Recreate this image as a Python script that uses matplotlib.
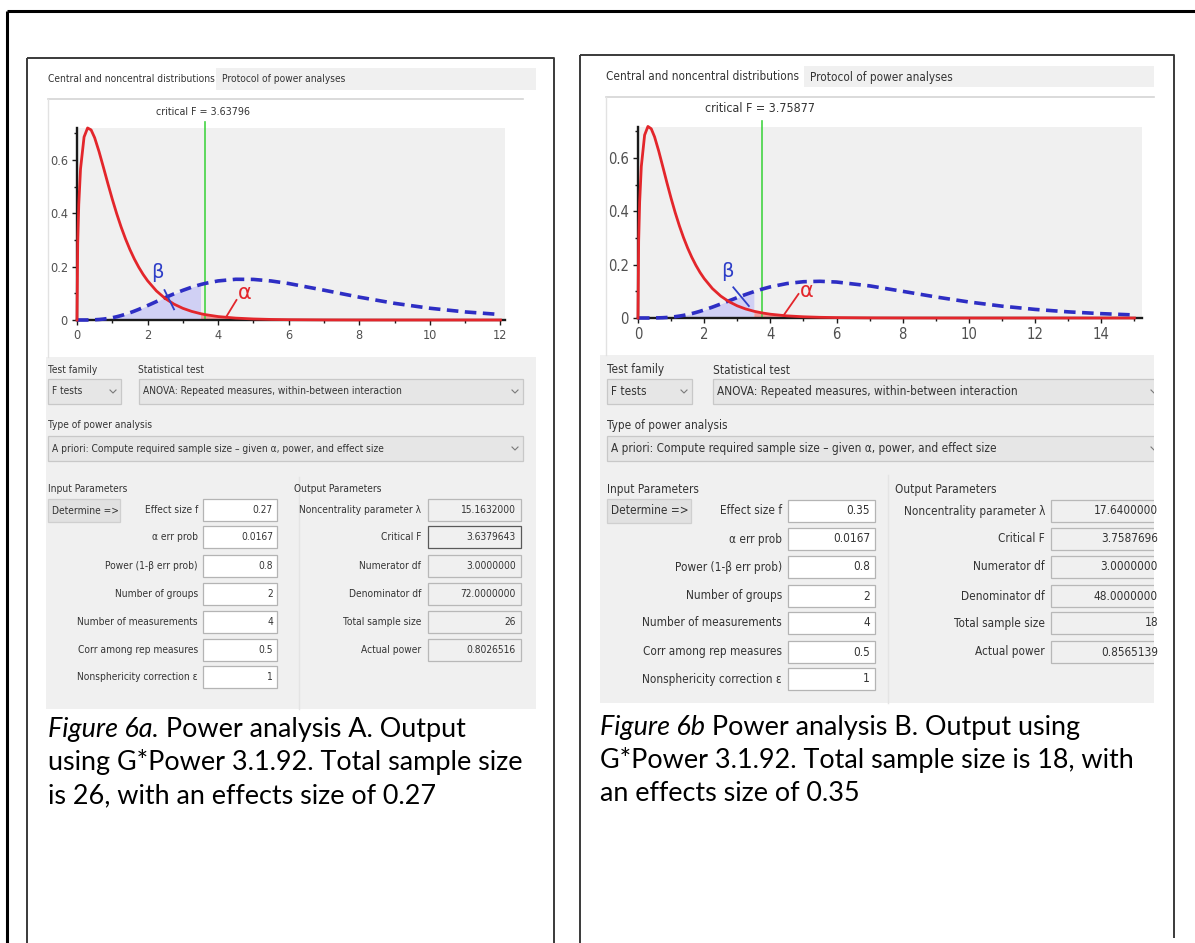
import matplotlib
matplotlib.use("Agg")
import matplotlib.pyplot as plt
import matplotlib.font_manager as fm
from matplotlib.patches import Rectangle
from matplotlib.ticker import MultipleLocator

# ---------------- data (read from the two G*Power screenshots) ----------------
crit_A = 3.63796
x_A = [0, 0.02, 0.05, 0.1, 0.2, 0.3, 0.4, 0.5, 0.625, 0.75,
       0.875, 1.0, 1.125, 1.25, 1.375, 1.5, 1.625, 1.75, 1.875, 2.0,
       2.25, 2.5, 2.75, 3.0, 3.25, 3.5, 3.638, 4.0, 4.5, 5.0,
       5.5, 6.0, 7.0, 8.0, 9.0, 10.0, 11.0, 12.0]
central_A = [0, 0.2871, 0.4332, 0.5667, 0.6862, 0.7201, 0.7128, 0.6836, 0.6314, 0.5721,
             0.5116, 0.4532, 0.3987, 0.3489, 0.3041, 0.2641, 0.2288, 0.1979, 0.1708, 0.1473,
             0.1091, 0.0806, 0.0594, 0.0438, 0.0323, 0.0238, 0.0201, 0.0129, 0.0071, 0.0039,
             0.0021, 0.0012, 0.0004, 0.0001, 0, 0, 0, 0]
noncentral_A = [0, 0, 0, 0, 0, 0.0001, 0.0004, 0.0009, 0.0019, 0.0035,
                0.0057, 0.0086, 0.0122, 0.0166, 0.0216, 0.0272, 0.0333, 0.0399, 0.0469, 0.0541,
                0.0691, 0.0840, 0.0982, 0.1113, 0.1230, 0.1328, 0.1374, 0.1466, 0.1527, 0.1522,
                0.1464, 0.1368, 0.1118, 0.0856, 0.0625, 0.0441, 0.0303, 0.0205]
xticks_A = [0, 2, 4, 6, 8, 10, 12]
xticklabels_A = ["0", "2", "4", "6", "8", "10", "12"]

crit_B = 3.75877
x_B = [0, 0.02, 0.05, 0.1, 0.2, 0.3, 0.4, 0.5, 0.625, 0.75,
       0.875, 1.0, 1.125, 1.25, 1.375, 1.5, 1.625, 1.75, 1.875, 2.0,
       2.25, 2.5, 2.75, 3.0, 3.25, 3.5, 3.759, 4.0, 4.5, 5.0,
       5.5, 6.0, 7.0, 8.0, 9.0, 10.0, 11.0, 12.0, 13.0, 14.0, 15.0]
central_B = [0, 0.2884, 0.4348, 0.5680, 0.6859, 0.7181, 0.7094, 0.6793, 0.6265, 0.5670,
             0.5066, 0.4487, 0.3948, 0.3458, 0.3017, 0.2624, 0.2278, 0.1974, 0.1708, 0.1478,
             0.1102, 0.0822, 0.0612, 0.0456, 0.0340, 0.0254, 0.0188, 0.0142, 0.0080, 0.0046,
             0.0026, 0.0015, 0.0005, 0.0002, 0.0001, 0, 0, 0, 0, 0, 0]
noncentral_B = [0, 0, 0, 0, 0, 0, 0.0001, 0.0002, 0.0006, 0.0011,
                0.0020, 0.0033, 0.0050, 0.0072, 0.0098, 0.0130, 0.0166, 0.0207, 0.0252, 0.0301,
                0.0409, 0.0525, 0.0645, 0.0765, 0.0880, 0.0987, 0.1086, 0.1167, 0.1292, 0.1360,
                0.1376, 0.1348, 0.1204, 0.1000, 0.0789, 0.0600, 0.0444, 0.0322, 0.0230, 0.0163, 0.0114]
xticks_B = [0, 2, 4, 6, 8, 10, 12, 14]
xticklabels_B = ["0", "2", "4", "6", "8", "10", "12", "14"]

yticks = [0, 0.2, 0.4, 0.6]
yticklabels = ["0", "0.2", "0.4", "0.6"]

tab_labels = ["Central and noncentral distributions", "Protocol of power analyses"]
test_family = "F tests"
statistical_test = "ANOVA: Repeated measures, within-between interaction"
power_type = "A priori: Compute required sample size \u2013 given \u03b1, power, and effect size"

input_labels = ["Effect size f", "\u03b1 err prob", "Power (1-\u03b2 err prob)", "Number of groups",
                "Number of measurements", "Corr among rep measures", "Nonsphericity correction \u03b5"]
output_labels = ["Noncentrality parameter \u03bb", "Critical F", "Numerator df", "Denominator df",
                 "Total sample size", "Actual power"]

inputs_A = ["0.27", "0.0167", "0.8", "2", "4", "0.5", "1"]
outputs_A = ["15.1632000", "3.6379643", "3.0000000", "72.0000000", "26", "0.8026516"]
inputs_B = ["0.35", "0.0167", "0.8", "2", "4", "0.5", "1"]
outputs_B = ["17.6400000", "3.7587696", "3.0000000", "48.0000000", "18", "0.8565139"]

caption_A = [("Figure 6a.", " Power analysis A. Output"),
             ("", "using G*Power 3.1.92. Total sample size"),
             ("", "is 26, with an effects size of 0.27")]
caption_B = [("Figure 6b", " Power analysis B. Output using"),
             ("", "G*Power 3.1.92. Total sample size is 18, with"),
             ("", "an effects size of 0.35")]

# ---------------- fonts ----------------
entries = fm.fontManager.ttflist
names = {f.name for f in entries}
UI_KW = {"family": ["Lato", "DejaVu Sans"]}
if "Liberation Sans Narrow" in names:
    UI_KW = {"family": ["Liberation Sans Narrow", "DejaVu Sans"]}
elif any(f.name == "DejaVu Sans" and "ondensed" in str(f.stretch) + f.fname for f in entries):
    UI_KW = {"family": ["DejaVu Sans"], "fontstretch": "condensed"}
CAP_KW = {"family": ["Lato", "DejaVu Sans"]}
TXT = "#333333"

# ---------------- figure ----------------
W, H = 1195, 943
fig = plt.figure(figsize=(W / 100, H / 100), dpi=100)
base = fig.add_axes([0, 0, 1, 1])
base.set_xlim(0, W)
base.set_ylim(H, 0)
base.axis("off")
R = fig.canvas.get_renderer()


def box(x0, y0, x1, y1, fc="none", ec="none", lw=1.0, clip=None, z=1):
    r = Rectangle((x0, y0), x1 - x0, y1 - y0, facecolor=fc, edgecolor=ec, linewidth=lw, zorder=z)
    base.add_patch(r)
    if clip is not None:
        r.set_clip_path(clip)
    return r


def label(x, y, s, size, ha="left", va="center", color=TXT, clip=None, kw=None, **extra):
    kw = UI_KW if kw is None else kw
    t = base.text(x, y, s, fontsize=size, ha=ha, va=va, color=color, zorder=6, **kw, **extra)
    if clip is not None:
        t.set_clip_path(clip)
    return t


def width_of(s, size, kw, style="normal"):
    t = base.text(0, 0, s, fontsize=size, style=style, **kw)
    w = t.get_window_extent(R).width
    t.remove()
    return w


def chevron(cx, cy, clip=None):
    ln, = base.plot([cx - 3, cx, cx + 3], [cy - 1.5, cy + 1.5, cy - 1.5], color="#7a7a7a", lw=0.8, zorder=6)
    if clip is not None:
        ln.set_clip_path(clip)


# outer frame (open at right and bottom) and the two table cells
base.plot([7, W], [11, 11], color="black", lw=2.2, solid_capstyle="butt")
base.plot([7, 7], [11, H], color="black", lw=2.2, solid_capstyle="butt")
for (x0, x1, y0, y1) in [(27, 554, 58, H), (580, 1174, 55, 938)]:
    base.plot([x0, x1, x1], [y0, y0, y1], color="#3a3a3a", lw=1.4, solid_capstyle="butt")
    base.plot([x0, x0], [y0, H], color="#3a3a3a", lw=1.4, solid_capstyle="butt")

panels = [
    dict(shot=(46, 68, 536, 709), tab1=(48, 79), tab2=(216, 68, 536, 90), tab2_text=(222, 79),
         frame_y=99, frame_x=(48, 523), form_y=357, crit_text=(203, 112),
         ax=(77, 128, 505, 320), xlim=12.13, ylim=0.72,
         lab_y=370, tf_x=48, st_x=138, ftest=(48, 121), anova=(139, 523), combo_y=(379, 404),
         type_y=425, type_box=(48, 523), type_yy=(436, 461),
         par_y=489, out_x=294, det=(48, 120, 499, 522),
         in_lab_r=198, in_box=(203, 277), in_val_r=273,
         out_lab_r=421, out_box=(428, 521), out_val_r=516,
         rows=[510, 537, 566, 594, 622, 650, 677], row_h=22, sep_x=299,
         ui_w=165, cap_x=48, cap_y=[737, 770, 803],
         crit=crit_A, x=x_A, c=central_A, nc=noncentral_A, xt=xticks_A, xtl=xticklabels_A,
         beta_txt=(2.28, 0.178), beta_ln=((2.48, 2.75), (0.112, 0.04)),
         alpha_txt=(4.75, 0.10), alpha_ln=((4.52, 4.22), (0.075, 0.01)),
         inputs=inputs_A, outputs=outputs_A, caption=caption_A, crit_box=True),
    dict(shot=(600, 66, 1154, 703), tab1=(606, 77), tab2=(804, 66, 1154, 87), tab2_text=(810, 77),
         frame_y=97, frame_x=(606, 1154), form_y=355, crit_text=(760, 109),
         ax=(638, 127, 1142, 318), xlim=15.23, ylim=0.716,
         lab_y=370, tf_x=607, st_x=713, ftest=(607, 692), anova=(713, 1162), combo_y=(379, 404),
         type_y=425, type_box=(607, 1162), type_yy=(436, 461),
         par_y=490, out_x=895, det=(607, 691, 499, 523),
         in_lab_r=782, in_box=(788, 875), in_val_r=870,
         out_lab_r=1045, out_box=(1051, 1162), out_val_r=1158,
         rows=[511, 539, 567, 596, 623, 652, 679], row_h=22, sep_x=888,
         ui_w=192, cap_x=600, cap_y=[735, 768, 801],
         crit=crit_B, x=x_B, c=central_B, nc=noncentral_B, xt=xticks_B, xtl=xticklabels_B,
         beta_txt=(2.69, 0.175), beta_ln=((2.88, 3.35), (0.115, 0.045)),
         alpha_txt=(5.1, 0.10), alpha_ln=((4.85, 4.4), (0.09, 0.01)),
         inputs=inputs_B, outputs=outputs_B, caption=caption_B, crit_box=False),
]

# caption font size fitted to the widest caption lines
cap_size = 0.5 * (17 * 475 / width_of(caption_A[1][1], 17, CAP_KW) +
                  17 * 535 / width_of(caption_B[1][1], 17, CAP_KW))

for p in panels:
    sx0, sy0, sx1, sy1 = p["shot"]
    clip = Rectangle((sx0, sy0), sx1 - sx0, sy1 - sy0, transform=base.transData)
    ui = 8 * p["ui_w"] / width_of(tab_labels[0], 8, UI_KW)

    # screenshot background
    box(sx0, sy0, sx1, sy1, fc="white", z=0.5)
    box(sx0, p["form_y"], sx1, sy1, fc="#f0f0f0", z=0.6)
    # tabs
    label(p["tab1"][0], p["tab1"][1], tab_labels[0], ui)
    tx0, ty0, tx1, ty1 = p["tab2"]
    box(tx0, ty0, tx1, ty1, fc="#f0f0f0", ec="none", z=0.7)
    label(p["tab2_text"][0], p["tab2_text"][1], tab_labels[1], ui)
    # plot frame
    fx0, fx1 = p["frame_x"]
    base.plot([fx0, fx1], [p["frame_y"], p["frame_y"]], color="#d4d4d4", lw=1.2, zorder=1)
    base.plot([fx0, fx0], [p["frame_y"], p["form_y"]], color="#e2e2e2", lw=1.0, zorder=1)
    label(p["crit_text"][0], p["crit_text"][1], "critical F = %.5f" % p["crit"], ui * 1.05, ha="center")

    # distribution plot
    ax0, ay0, ax1, ay1 = p["ax"]
    ax = fig.add_axes([ax0 / W, 1 - ay1 / H, (ax1 - ax0) / W, (ay1 - ay0) / H])
    ax.set_facecolor("#f0f0f0")
    ax.set_xlim(0, p["xlim"])
    ax.set_ylim(0, p["ylim"])
    for s in ("top", "right"):
        ax.spines[s].set_visible(False)
    for s in ("left", "bottom"):
        ax.spines[s].set_color("#1a1a1a")
        ax.spines[s].set_linewidth(1.7)
    ax.set_xticks(p["xt"])
    ax.set_xticklabels(p["xtl"])
    ax.set_yticks(yticks)
    ax.set_yticklabels(yticklabels)
    ax.xaxis.set_minor_locator(MultipleLocator(1))
    ax.yaxis.set_minor_locator(MultipleLocator(0.1))
    ax.tick_params(which="both", direction="out", color="#1a1a1a", labelsize=ui * 1.25,
                   labelcolor="#505050", width=1.0)
    ax.tick_params(which="major", length=3.5, pad=3)
    ax.tick_params(which="minor", length=2.5)
    for t in ax.get_xticklabels() + ax.get_yticklabels():
        t.set_family(UI_KW["family"])
        if "fontstretch" in UI_KW:
            t.set_fontstretch(UI_KW["fontstretch"])
    xs, c, nc, crit = p["x"], p["c"], p["nc"], p["crit"]
    bx = [v for v in xs if v <= crit + 1e-9]
    ax.fill_between(bx, 0, nc[:len(bx)], color="#d0d0f4", lw=0, zorder=1)
    ax.fill_between(xs[len(bx) - 1:], 0, c[len(bx) - 1:], color="#f2a0a0", lw=0, zorder=1)
    ax.plot(xs, nc, color="#2e2ec4", lw=2.6, dashes=(3.2, 1.8), zorder=3, clip_on=False)
    ax.plot(xs, c, color="#e3262b", lw=2.0, zorder=4, clip_on=False)
    ax.plot([crit, crit], [0, p["ylim"] * 1.03], color="#44d444", lw=1.2, zorder=2, clip_on=False)
    ax.text(p["beta_txt"][0], p["beta_txt"][1], "\u03b2", color="#2e3ec8", fontsize=14,
            ha="center", va="center", family=["DejaVu Sans"], zorder=5)
    ax.plot(p["beta_ln"][0], p["beta_ln"][1], color="#2e3ec8", lw=1.3, zorder=5)
    ax.text(p["alpha_txt"][0], p["alpha_txt"][1], "\u03b1", color="#e3262b", fontsize=15,
            ha="center", va="center", family=["DejaVu Sans"], zorder=5)
    ax.plot(p["alpha_ln"][0], p["alpha_ln"][1], color="#e3262b", lw=1.3, zorder=5)

    # form: test family / statistical test
    cy0, cy1 = p["combo_y"]
    label(p["tf_x"], p["lab_y"], "Test family", ui)
    label(p["st_x"], p["lab_y"], "Statistical test", ui)
    for (bx0, bx1), s in [(p["ftest"], test_family), (p["anova"], statistical_test)]:
        box(bx0, cy0, bx1, cy1, fc="#e6e6e6", ec="#c8c8c8", lw=0.9, clip=clip, z=2)
        label(bx0 + 4, (cy0 + cy1) / 2, s, ui, clip=clip)
        chevron(bx1 - 8, (cy0 + cy1) / 2, clip=clip)
    label(p["tf_x"], p["type_y"], "Type of power analysis", ui)
    tb0, tb1 = p["type_box"]
    ty0, ty1 = p["type_yy"]
    box(tb0, ty0, tb1, ty1, fc="#e6e6e6", ec="#c8c8c8", lw=0.9, clip=clip, z=2)
    label(tb0 + 4, (ty0 + ty1) / 2, power_type, ui, clip=clip)
    chevron(tb1 - 8, (ty0 + ty1) / 2, clip=clip)

    # parameters
    label(p["tf_x"], p["par_y"], "Input Parameters", ui)
    label(p["out_x"], p["par_y"], "Output Parameters", ui)
    dx0, dx1, dy0, dy1 = p["det"]
    box(dx0, dy0, dx1, dy1, fc="#e1e1e1", ec="#cfcfcf", lw=0.9, z=2)
    label(dx0 + 4, (dy0 + dy1) / 2, "Determine =>", ui)
    base.plot([p["sep_x"], p["sep_x"]], [p["form_y"] + 120, sy1], color="#e4e4e4", lw=1.0, zorder=1)
    hh = p["row_h"] / 2
    for i, (lab, val) in enumerate(zip(input_labels, p["inputs"])):
        yy = p["rows"][i]
        label(p["in_lab_r"], yy, lab, ui, ha="right")
        box(p["in_box"][0], yy - hh, p["in_box"][1], yy + hh, fc="white", ec="#b4b4b4", lw=0.9, z=2)
        label(p["in_val_r"], yy, val, ui, ha="right")
    for i, (lab, val) in enumerate(zip(output_labels, p["outputs"])):
        yy = p["rows"][i]
        label(p["out_lab_r"], yy, lab, ui, ha="right")
        ec = "#5a5a5a" if (i == 1 and p["crit_box"]) else "#b8b8b8"
        box(p["out_box"][0], yy - hh, p["out_box"][1], yy + hh, fc="#f0f0f0", ec=ec, lw=0.9, clip=clip, z=2)
        label(p["out_val_r"], yy, val, ui, ha="right", clip=clip)

    # caption below the screenshot
    for (ital, rest), yb in zip(p["caption"], p["cap_y"]):
        x = p["cap_x"]
        if ital:
            t = label(x, yb, ital, cap_size, va="baseline", color="black", kw=CAP_KW, style="italic")
            x += t.get_window_extent(R).width
        label(x, yb, rest, cap_size, va="baseline", color="black", kw=CAP_KW)

fig.savefig("out.png", dpi=100)
